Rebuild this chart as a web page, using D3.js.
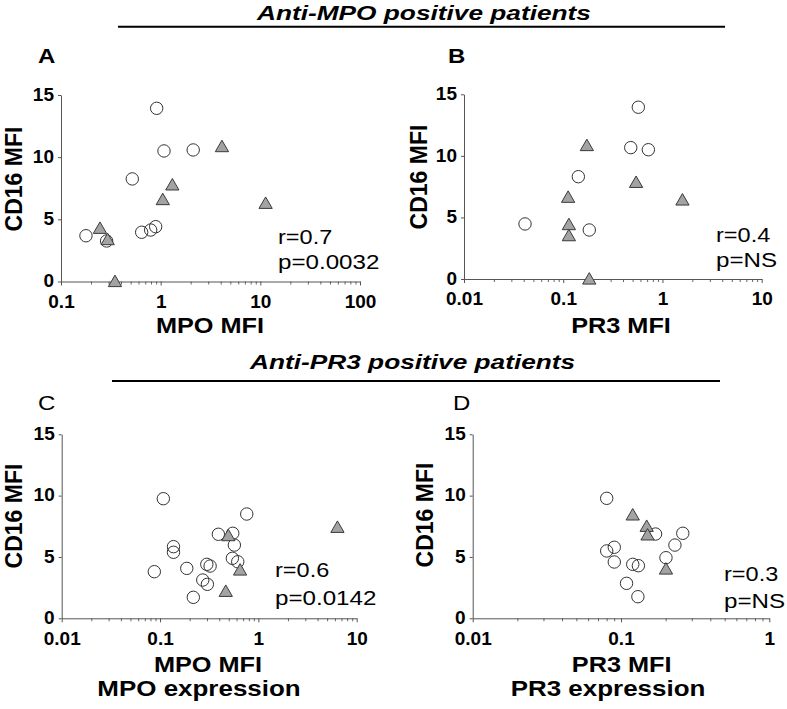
<!DOCTYPE html>
<html><head><meta charset="utf-8">
<script src="https://cdn.jsdelivr.net/npm/d3@7"></script>
<style>body{margin:0;background:#fff} svg{display:block;font-family:"Liberation Sans",Arial,sans-serif}</style>
</head><body><svg id="c" width="787" height="709"></svg>
<script>
// ---------- data ----------
const yTicks = [0, 5, 10, 15];

// Panel A (Anti-MPO patients, MPO MFI)
const aCircleX = [0.178, 0.287, 0.912, 1.08, 2.12, 0.519, 0.645, 0.794, 0.891];
const aCircleY = [3.68, 3.26, 13.93, 10.5, 10.58, 8.25, 3.96, 4.14, 4.41];
const aTriX = [0.246, 0.294, 0.348, 1.05, 1.31, 4.12, 11.3];
const aTriY = [4.33, 3.42, 0.05, 6.64, 7.82, 10.9, 6.34];
const aXTicks = [0.1, 1, 10, 100];
const aXTickLabels = ["0.1", "1", "10", "100"];

// Panel B (Anti-MPO patients, PR3 MFI)
const bCircleX = [0.0412, 0.142, 0.183, 0.571, 0.479, 0.721];
const bCircleY = [4.47, 8.31, 3.98, 13.95, 10.67, 10.5];
const bTriX = [0.173, 0.112, 0.114, 0.114, 0.183, 0.542, 1.59];
const bTriY = [10.89, 6.69, 4.47, 3.57, 0.05, 7.9, 6.47];
const bXTicks = [0.01, 0.1, 1, 10];
const bXTickLabels = ["0.01", "0.1", "1", "10"];

// Panel C (Anti-PR3 patients, MPO MFI)
const cCircleX = [0.0875, 0.108, 0.137, 0.137, 0.187, 0.218, 0.272, 0.303, 0.299, 0.323, 0.392, 0.549, 0.57, 0.544, 0.617, 0.762];
const cCircleY = [3.8, 9.75, 5.84, 5.38, 4.07, 1.71, 3.12, 2.77, 4.4, 4.26, 6.85, 6.93, 5.97, 4.89, 4.61, 8.5];
const cTriX = [0.495, 0.652, 0.466, 6.37];
const cTriY = [6.79, 3.99, 2.25, 7.47];
const cXTicks = [0.01, 0.1, 1, 10];
const cXTickLabels = ["0.01", "0.1", "1", "10"];

// Panel D (Anti-PR3 patients, PR3 MFI)
const dCircleX = [0.0801, 0.0801, 0.0901, 0.0901, 0.109, 0.12, 0.131, 0.13, 0.171, 0.201, 0.231, 0.261];
const dCircleY = [9.78, 5.49, 5.79, 4.59, 2.85, 4.4, 4.29, 1.76, 6.87, 4.94, 5.97, 6.93];
const dTriX = [0.12, 0.149, 0.151, 0.201];
const dTriY = [8.48, 7.55, 6.85, 4.07];
const dXTicks = [0.01, 0.1, 1];
const dXTickLabels = ["0.01", "0.1", "1"];

const groupTitles = ["Anti-MPO positive patients", "Anti-PR3 positive patients"];
const panelLetters = ["A", "B", "C", "D"];
const xTitles = ["MPO MFI", "PR3 MFI", "MPO MFI", "PR3 MFI"];
const xSubTitles = ["", "", "MPO expression", "PR3 expression"];
const yTitle = "CD16 MFI";
const statR = ["r=0.7", "r=0.4", "r=0.6", "r=0.3"];
const statP = ["p=0.0032", "p=NS", "p=0.0142", "p=NS"];

// ---------- layout ----------
const svg = d3.select("#c");
const zip = (xs, ys) => xs.map((x, i) => ({x, y: ys[i]}));

const panels = [
  {circles: zip(aCircleX, aCircleY), tris: zip(aTriX, aTriY), ticks: aXTicks, labels: aXTickLabels,
   xr: [61, 360], yr: [281.5, 95], letter: [38, 63, "bold"], ylab: [21.5, 179], xt: [210, 333], xs: [0, 0], st: [278, 244, 269]},
  {circles: zip(bCircleX, bCircleY), tris: zip(bTriX, bTriY), ticks: bXTicks, labels: bXTickLabels,
   xr: [464, 761.7], yr: [279, 94.3], letter: [448, 63, "bold"], ylab: [427, 177], xt: [621, 333], xs: [0, 0], st: [716, 242, 267]},
  {circles: zip(cCircleX, cCircleY), tris: zip(cTriX, cTriY), ticks: cXTicks, labels: cXTickLabels,
   xr: [61.7, 356.7], yr: [618.3, 434.3], letter: [38, 410, "normal"], ylab: [21.5, 516], xt: [208, 671.7], xs: [199, 696], st: [275, 577, 605]},
  {circles: zip(dCircleX, dCircleY), tris: zip(dTriX, dTriY), ticks: dXTicks, labels: dXTickLabels,
   xr: [472.7, 769.3], yr: [618.3, 434.3], letter: [453, 410, "normal"], ylab: [433, 515], xt: [621.7, 671.7], xs: [608, 696], st: [724, 581, 608]}
];

function txt(parent, x, y, s, o) {
  o = Object.assign({size: 20, weight: "normal", style: "normal", anchor: "start", sx: 1, rot: 0}, o);
  return parent.append("text")
    .attr("transform", `translate(${x},${y}) rotate(${o.rot}) scale(${o.sx},1)`)
    .attr("text-anchor", o.anchor)
    .attr("font-size", o.size).attr("font-weight", o.weight).attr("font-style", o.style)
    .attr("fill", "#000").text(s);
}

// group titles + rules
txt(svg, 257, 20, groupTitles[0], {size: 21, weight: "bold", style: "italic", sx: 1.25});
svg.append("line").attr("x1", 118).attr("x2", 725).attr("y1", 26.7).attr("y2", 26.7).attr("stroke", "#000").attr("stroke-width", 2);
txt(svg, 250, 369, groupTitles[1], {size: 21, weight: "bold", style: "italic", sx: 1.25});
svg.append("line").attr("x1", 112).attr("x2", 720).attr("y1", 381).attr("y2", 381).attr("stroke", "#000").attr("stroke-width", 2);

const triSym = d3.symbol().type(d3.symbolTriangle).size(76);

panels.forEach((p, i) => {
  const lo = p.ticks[0], hi = p.ticks[p.ticks.length - 1];
  const x = d3.scaleLog().domain([lo, hi]).range(p.xr);
  const y = d3.scaleLinear().domain([0, 15]).range(p.yr);
  const g = svg.append("g");

  // minor ticks
  const minors = [];
  p.ticks.slice(0, -1).forEach(t => { for (let k = 2; k <= 9; k++) minors.push(t * k); });
  const minorAxis = g.append("g").attr("transform", `translate(0,${p.yr[0]})`)
    .call(d3.axisBottom(x).tickValues(minors).tickSize(3).tickSizeOuter(0).tickFormat(""));
  minorAxis.select(".domain").remove();
  minorAxis.selectAll("line").attr("stroke", "#666");

  const xAxis = g.append("g").attr("transform", `translate(0,${p.yr[0]})`)
    .call(d3.axisBottom(x).tickValues(p.ticks).tickSize(4).tickSizeOuter(0).tickPadding(9)
      .tickFormat((d, j) => p.labels[j]));
  const yAxis = g.append("g").attr("transform", `translate(${p.xr[0]},0)`)
    .call(d3.axisLeft(y).tickValues(yTicks).tickSize(3).tickSizeOuter(0).tickPadding(4));
  [xAxis, yAxis].forEach(a => {
    a.select(".domain").attr("stroke", "#555");
    a.selectAll("line").attr("stroke", "#555");
    a.selectAll("text").attr("font-size", 19).attr("font-weight", "bold").attr("fill", "#000")
      .attr("font-family", '"Liberation Sans",Arial,sans-serif');
  });
  yAxis.selectAll("text").attr("dy", "0.28em");

  // marks
  g.append("g").selectAll("circle").data(p.circles).join("circle")
    .attr("cx", d => x(d.x)).attr("cy", d => y(d.y)).attr("r", 6.2)
    .attr("fill", "none").attr("stroke", "#333").attr("stroke-width", 1);
  g.append("g").selectAll("path").data(p.tris).join("path")
    .attr("d", triSym)
    .attr("transform", d => `translate(${x(d.x)},${y(d.y) + 1.9})`)
    .attr("fill", "#a3a3a3").attr("stroke", "#3a3a3a").attr("stroke-width", 1);

  // texts
  txt(svg, p.letter[0], p.letter[1], panelLetters[i], {size: 20, weight: p.letter[2], sx: 1.2});
  txt(svg, p.ylab[0], p.ylab[1], yTitle, {size: 23, weight: "bold", anchor: "middle", rot: -90});
  txt(svg, p.xt[0], p.xt[1], xTitles[i], {size: 22, weight: "bold", anchor: "middle", sx: 1.15});
  if (xSubTitles[i]) txt(svg, p.xs[0], p.xs[1], xSubTitles[i], {size: 22, weight: "bold", anchor: "middle", sx: 1.18});
  txt(svg, p.st[0], p.st[1], statR[i], {size: 21, sx: 1.12});
  txt(svg, p.st[0], p.st[2], statP[i], {size: 21, sx: 1.15});
});
</script></body></html>
